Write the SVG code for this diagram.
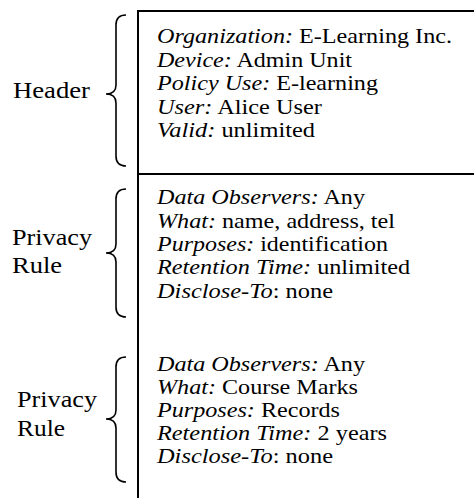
<svg xmlns="http://www.w3.org/2000/svg" width="474" height="498" viewBox="0 0 474 498">
<rect width="474" height="498" fill="#fff"/>
<g id="connectors" fill="none" stroke="#000" stroke-width="2">
<path d="M138,498 L138,11 L474,11"/>
<path d="M138,174 L474,174"/>
</g>
<g id="header">
<text font-family="serif" font-size="24" x="13" y="98" textLength="77" lengthAdjust="spacingAndGlyphs">Header</text>
<path fill="none" stroke="#000" stroke-width="1.6" d="M126,15 Q116,15 116,25 L116,85 Q116,94 106,94 Q116,94 116,103 L116,156 Q116,166 126,166"/>
<text font-family="serif" font-size="21" x="157" y="43" textLength="295" lengthAdjust="spacingAndGlyphs"><tspan font-style="italic">Organization:</tspan> E-Learning Inc.</text>
<text font-family="serif" font-size="21" x="157" y="67" textLength="195" lengthAdjust="spacingAndGlyphs"><tspan font-style="italic">Device:</tspan> Admin Unit</text>
<text font-family="serif" font-size="21" x="157" y="90" textLength="221" lengthAdjust="spacingAndGlyphs"><tspan font-style="italic">Policy Use:</tspan> E-learning</text>
<text font-family="serif" font-size="21" x="157" y="114" textLength="165" lengthAdjust="spacingAndGlyphs"><tspan font-style="italic">User:</tspan> Alice User</text>
<text font-family="serif" font-size="21" x="157" y="137" textLength="158" lengthAdjust="spacingAndGlyphs"><tspan font-style="italic">Valid:</tspan> unlimited</text>
</g>
<g id="rule1">
<text font-family="serif" font-size="24" x="12" y="245" textLength="80" lengthAdjust="spacingAndGlyphs">Privacy</text>
<text font-family="serif" font-size="24" x="12" y="273" textLength="50" lengthAdjust="spacingAndGlyphs">Rule</text>
<path fill="none" stroke="#000" stroke-width="1.6" d="M126,189 Q116,189 116,199 L116,244 Q116,253 106,253 Q116,253 116,262 L116,307 Q116,317 126,317"/>
<text font-family="serif" font-size="21" x="157" y="204" textLength="208" lengthAdjust="spacingAndGlyphs"><tspan font-style="italic">Data Observers:</tspan> Any</text>
<text font-family="serif" font-size="21" x="157" y="228" textLength="238" lengthAdjust="spacingAndGlyphs"><tspan font-style="italic">What:</tspan> name, address, tel</text>
<text font-family="serif" font-size="21" x="157" y="251" textLength="231" lengthAdjust="spacingAndGlyphs"><tspan font-style="italic">Purposes:</tspan> identification</text>
<text font-family="serif" font-size="21" x="157" y="274" textLength="253" lengthAdjust="spacingAndGlyphs"><tspan font-style="italic">Retention Time:</tspan> unlimited</text>
<text font-family="serif" font-size="21" x="157" y="298" textLength="176" lengthAdjust="spacingAndGlyphs"><tspan font-style="italic">Disclose-To</tspan>: none</text>
</g>
<g id="rule2">
<text font-family="serif" font-size="24" x="17" y="407" textLength="80" lengthAdjust="spacingAndGlyphs">Privacy</text>
<text font-family="serif" font-size="24" x="17" y="436" textLength="48" lengthAdjust="spacingAndGlyphs">Rule</text>
<path fill="none" stroke="#000" stroke-width="1.6" d="M126,357 Q116,357 116,367 L116,410 Q116,419 106,419 Q116,419 116,428 L116,472 Q116,482 126,482"/>
<text font-family="serif" font-size="21" x="157" y="371" textLength="208" lengthAdjust="spacingAndGlyphs"><tspan font-style="italic">Data Observers:</tspan> Any</text>
<text font-family="serif" font-size="21" x="157" y="394" textLength="201" lengthAdjust="spacingAndGlyphs"><tspan font-style="italic">What:</tspan> Course Marks</text>
<text font-family="serif" font-size="21" x="157" y="417" textLength="183" lengthAdjust="spacingAndGlyphs"><tspan font-style="italic">Purposes:</tspan> Records</text>
<text font-family="serif" font-size="21" x="157" y="440" textLength="230" lengthAdjust="spacingAndGlyphs"><tspan font-style="italic">Retention Time:</tspan> 2 years</text>
<text font-family="serif" font-size="21" x="157" y="463" textLength="176" lengthAdjust="spacingAndGlyphs"><tspan font-style="italic">Disclose-To</tspan>: none</text>
</g>
</svg>
